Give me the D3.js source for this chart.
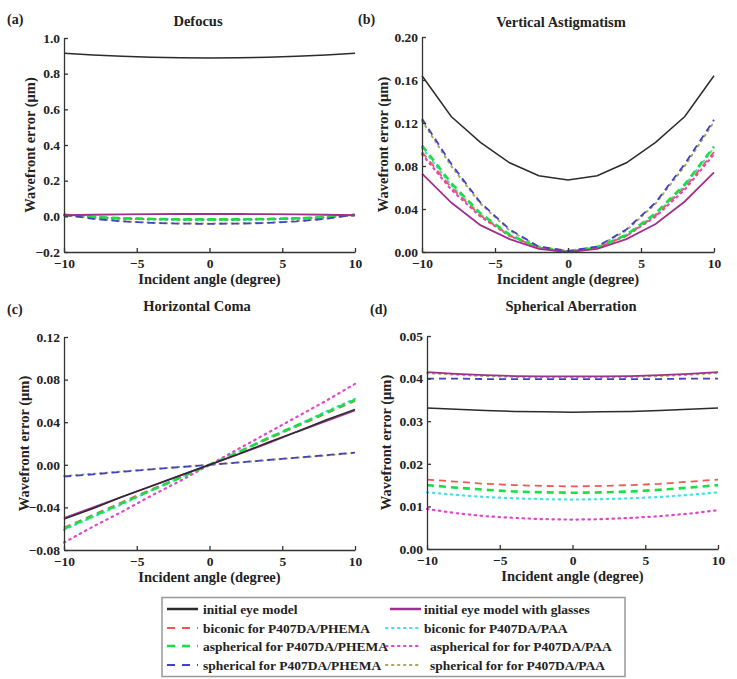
<!DOCTYPE html>
<html><head><meta charset="utf-8">
<script src="https://cdn.jsdelivr.net/npm/d3@7"></script>
<style>body{margin:0;background:#fff}svg{font-family:"Liberation Serif","Times New Roman",serif;font-weight:bold}</style>
</head><body>
<svg id="c" width="737" height="679"></svg>
<script>
const angles = [-10,-8,-6,-4,-2,0,2,4,6,8,10];
const seriesNames = ["initial eye model","initial eye model with glasses","biconic for P407DA/PHEMA","biconic for P407DA/PAA","aspherical for P407DA/PHEMA","aspherical for for P407DA/PAA","spherical for P407DA/PHEMA","spherical for for P407DA/PAA"];
const panelTitles = ["Defocus","Vertical Astigmatism","Horizontal Coma","Spherical Aberration"];
const panelLetters = ["(a)","(b)","(c)","(d)"];
const yTicksA = [-0.2,0,0.2,0.4,0.6,0.8,1.0];
const yTicksB = [0,0.04,0.08,0.12,0.16,0.20];
const yTicksC = [-0.08,-0.04,0,0.04,0.08,0.12];
const yTicksD = [0,0.01,0.02,0.03,0.04,0.05];
const xTicks = [-10,-5,0,5,10];

// Defocus
const defInitial = [0.915,0.905,0.897,0.892,0.889,0.888,0.889,0.892,0.897,0.905,0.915];
const defGlasses = [0.006,0.009,0.011,0.012,0.013,0.013,0.013,0.012,0.011,0.009,0.006];
const defBicPHEMA = [0.005,-0.005,-0.011,-0.014,-0.016,-0.016,-0.016,-0.014,-0.011,-0.005,0.005];
const defBicPAA = [0.007,-0.006,-0.013,-0.017,-0.019,-0.019,-0.019,-0.017,-0.013,-0.006,0.007];
const defAspPHEMA = [0.008,-0.004,-0.011,-0.015,-0.017,-0.017,-0.017,-0.015,-0.011,-0.004,0.008];
const defAspPAA = [0.006,-0.005,-0.012,-0.016,-0.018,-0.018,-0.018,-0.016,-0.012,-0.005,0.006];
const defSphPHEMA = [0.010,-0.014,-0.028,-0.037,-0.041,-0.042,-0.041,-0.037,-0.028,-0.014,0.010];
const defSphPAA = [0.011,-0.013,-0.027,-0.036,-0.040,-0.041,-0.040,-0.036,-0.027,-0.013,0.011];
// Vertical astigmatism
const astInitial = [0.164,0.126,0.102,0.083,0.071,0.067,0.071,0.083,0.102,0.126,0.164];
const astGlasses = [0.073,0.046,0.025,0.012,0.003,0.000,0.003,0.012,0.026,0.047,0.074];
const astBicPHEMA = [0.093,0.060,0.034,0.015,0.004,0.000,0.004,0.015,0.034,0.060,0.093];
const astBicPAA = [0.097,0.062,0.035,0.016,0.004,0.000,0.004,0.016,0.035,0.062,0.097];
const astAspPHEMA = [0.099,0.064,0.036,0.016,0.004,0.000,0.004,0.016,0.036,0.063,0.098];
const astAspPAA = [0.091,0.058,0.033,0.015,0.004,0.000,0.004,0.015,0.033,0.058,0.091];
const astSphPHEMA = [0.124,0.082,0.046,0.021,0.005,0.001,0.005,0.021,0.046,0.082,0.123];
const astSphPAA = [0.122,0.080,0.045,0.020,0.005,0.001,0.005,0.020,0.045,0.080,0.121];
// Horizontal coma
const comInitial = [-0.051,-0.041,-0.030,-0.020,-0.010,0.000,0.010,0.021,0.031,0.042,0.052];
const comGlasses = [-0.050,-0.040,-0.030,-0.020,-0.010,0.000,0.010,0.020,0.031,0.041,0.051];
const comBicPHEMA = [-0.059,-0.047,-0.035,-0.023,-0.012,0.000,0.012,0.024,0.036,0.048,0.060];
const comBicPAA = [-0.061,-0.049,-0.037,-0.024,-0.012,0.000,0.012,0.025,0.037,0.050,0.062];
const comAspPHEMA = [-0.060,-0.048,-0.036,-0.024,-0.012,0.000,0.012,0.025,0.037,0.049,0.061];
const comAspPAA = [-0.073,-0.058,-0.044,-0.029,-0.015,0.000,0.015,0.030,0.045,0.060,0.076];
const comSphPHEMA = [-0.011,-0.009,-0.0065,-0.0043,-0.0021,0.000,0.0022,0.0045,0.0068,0.009,0.0115];
const comSphPAA = [-0.0105,-0.0085,-0.0062,-0.0041,-0.002,0.000,0.0021,0.0043,0.0066,0.0088,0.0112];
// Spherical aberration
const sphInitial = [0.0331,0.0328,0.0325,0.0323,0.0322,0.0321,0.0322,0.0323,0.0325,0.0328,0.0331];
const sphGlasses = [0.0415,0.0411,0.0408,0.0406,0.0405,0.0405,0.0405,0.0406,0.0408,0.0411,0.0415];
const sphBicPHEMA = [0.0163,0.0158,0.0153,0.0150,0.0148,0.0147,0.0148,0.0150,0.0153,0.0158,0.0163];
const sphBicPAA = [0.0133,0.0127,0.0122,0.0119,0.0117,0.0116,0.0117,0.0119,0.0122,0.0127,0.0133];
const sphAspPHEMA = [0.0150,0.0144,0.0139,0.0135,0.0133,0.0132,0.0133,0.0135,0.0139,0.0144,0.0150];
const sphAspPAA = [0.0094,0.0084,0.0077,0.0073,0.0070,0.0069,0.0070,0.0073,0.0077,0.0083,0.0091];
const sphSphPHEMA = [0.0400,0.0400,0.0399,0.0399,0.0399,0.0399,0.0399,0.0399,0.0399,0.0400,0.0400];
const sphSphPAA = [0.0413,0.0409,0.0406,0.0404,0.0403,0.0403,0.0403,0.0404,0.0406,0.0409,0.0413];

const styles = [
  {color:"#2b2b2b", w:1.5, dash:null},
  {color:"#a0308f", w:1.8, dash:null},
  {color:"#f05858", w:1.8, dash:"7,5"},
  {color:"#48e0e0", w:2.2, dash:"1.5,4.5", cap:"round"},
  {color:"#18e040", w:2.6, dash:"7,5"},
  {color:"#e048c8", w:2.2, dash:"1.5,4.5", cap:"round"},
  {color:"#4040c8", w:1.8, dash:"7,5"},
  {color:"#a8a860", w:2.0, dash:"1.5,4.5", cap:"round"}
];
const panelData = [
  [defInitial,defGlasses,defBicPHEMA,defBicPAA,defAspPHEMA,defAspPAA,defSphPHEMA,defSphPAA],
  [astInitial,astGlasses,astBicPHEMA,astBicPAA,astAspPHEMA,astAspPAA,astSphPHEMA,astSphPAA],
  [comInitial,comGlasses,comBicPHEMA,comBicPAA,comAspPHEMA,comAspPAA,comSphPHEMA,comSphPAA],
  [sphInitial,sphGlasses,sphBicPHEMA,sphBicPAA,sphAspPHEMA,sphAspPAA,sphSphPHEMA,sphSphPAA]
];
const yTickSets = [yTicksA,yTicksB,yTicksC,yTicksD];
const yFormats = [".1f",".2f",".2f",".2f"];
const boxes = [
  {l:64,r:355,t:38,b:252, titleX:198, titleY:26, letterX:7, letterY:24, ylab:29},
  {l:422,r:714,t:37,b:252, titleX:561, titleY:27, letterX:358, letterY:24, ylab:34},
  {l:64,r:355,t:337,b:550, titleX:197, titleY:311, letterX:7, letterY:314, ylab:35},
  {l:427,r:718,t:336,b:549, titleX:571, titleY:311, letterX:370, letterY:314, ylab:36}
];
const drawOrder = [3,5,7,2,4,6,1,0];

const svg = d3.select("#c");
boxes.forEach((bx,i)=>{
  const ticks = yTickSets[i];
  const x = d3.scaleLinear().domain([-10,10]).range([bx.l,bx.r]);
  const y = d3.scaleLinear().domain([ticks[0],ticks[ticks.length-1]]).range([bx.b,bx.t]);
  const g = svg.append("g");
  const line = d3.line().x((d,k)=>x(angles[k])).y(d=>y(d));
  const order = i===2 ? drawOrder : [3,5,7,2,4,6,0,1];
  order.forEach(s=>{
    const st = styles[s];
    g.append("path").datum(panelData[i][s]).attr("d",line)
      .attr("fill","none").attr("stroke",st.color).attr("stroke-width",st.w)
      .attr("stroke-dasharray",st.dash).attr("stroke-linecap",st.cap||"butt");
  });
  const xa = g.append("g").attr("transform",`translate(0,${bx.b})`)
    .call(d3.axisBottom(x).tickValues(xTicks).tickSizeInner(-4).tickSizeOuter(0).tickPadding(6));
  const ya = g.append("g").attr("transform",`translate(${bx.l},0)`)
    .call(d3.axisLeft(y).tickValues(ticks).tickFormat(d3.format(yFormats[i])).tickSizeInner(-4).tickSizeOuter(0).tickPadding(8));
  [xa,ya].forEach(a=>{
    a.selectAll("path,line").attr("stroke","#333").attr("stroke-width",1.3);
    a.selectAll("text").attr("font-size",13.5).attr("font-family","Liberation Serif").attr("font-weight","bold").attr("fill","#222");
  });
  ya.selectAll("text").attr("dx",4);
  g.append("text").attr("x",(bx.l+bx.r)/2).attr("y",bx.b+32).attr("text-anchor","middle")
    .attr("font-size",14.5).attr("fill","#222").text("Incident angle (degree)");
  g.append("text").attr("transform",`translate(${bx.l-bx.ylab},${(bx.t+bx.b)/2}) rotate(-90)`).attr("text-anchor","middle")
    .attr("font-size",14.5).attr("fill","#222").text("Wavefront error (\u03bcm)");
  g.append("text").attr("x",bx.titleX).attr("y",bx.titleY).attr("text-anchor","middle")
    .attr("font-size",14.5).attr("fill","#222").text(panelTitles[i]);
  g.append("text").attr("x",bx.letterX).attr("y",bx.letterY)
    .attr("font-size",14).attr("fill","#222").text(panelLetters[i]);
});

// legend
const lg = svg.append("g");
lg.append("rect").attr("x",162).attr("y",597.5).attr("width",463).attr("height",79)
  .attr("fill","#fff").attr("stroke","#999").attr("stroke-width",1.5);
const legendPos = [
  {x1:165,x2:198,tx:203,y:609},{x1:388,x2:421,tx:424,y:609},
  {x1:165,x2:198,tx:203,y:628},{x1:388,x2:421,tx:424,y:628},
  {x1:165,x2:198,tx:203,y:646},{x1:388,x2:421,tx:430,y:646},
  {x1:165,x2:198,tx:203,y:665},{x1:388,x2:421,tx:430,y:665}
];
seriesNames.forEach((n,i)=>{
  const p = legendPos[i], st = styles[i];
  const x1 = (st.dash && st.dash.startsWith("1.5")) ? p.x1-2 : p.x1 + 2;
  lg.append("line").attr("x1",x1).attr("x2",p.x2).attr("y1",p.y).attr("y2",p.y)
    .attr("stroke",st.color).attr("stroke-width",st.dash? st.w : 2.5)
    .attr("stroke-dasharray",st.dash ? (st.cap ? "1.5,4.5" : "8,7") : null).attr("stroke-linecap",st.cap||"butt");
  lg.append("text").attr("x",p.tx).attr("y",p.y+4.5).attr("font-size",13.5).attr("fill","#222").text(n);
});
</script>
</body></html>
